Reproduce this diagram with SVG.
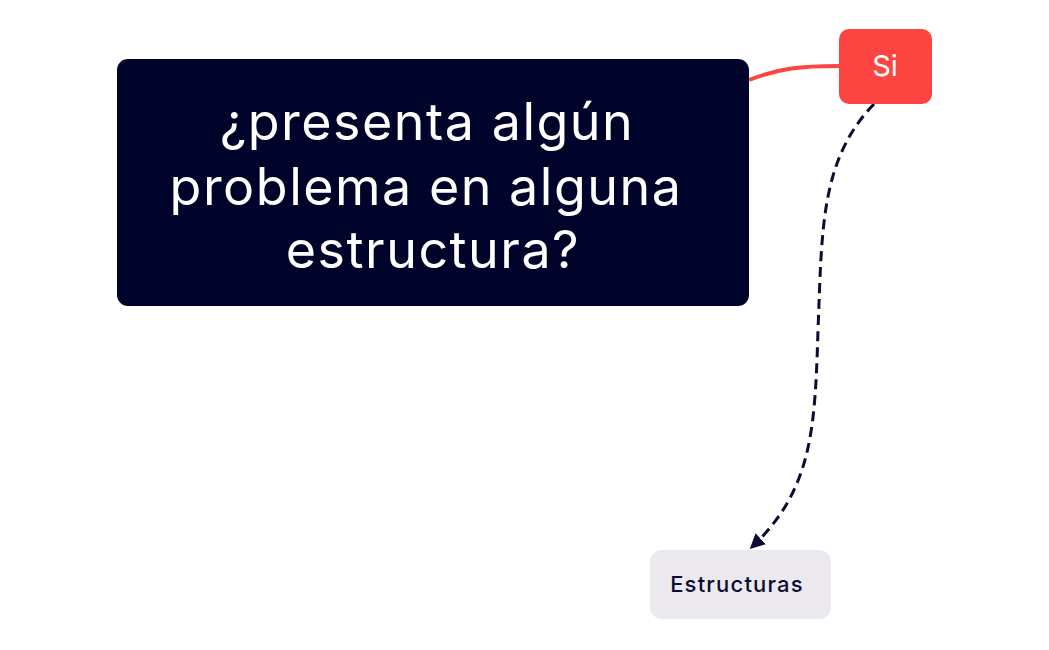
<svg xmlns="http://www.w3.org/2000/svg" width="1049" height="650" viewBox="0 0 1049 650">
<defs>
<style>
.q{font-family:Inter,"Open Sans","Liberation Sans",sans-serif;font-size:52px;letter-spacing:1.5px;fill:#ffffff;text-anchor:middle}
.si{font-family:Inter,"Open Sans","Liberation Sans",sans-serif;font-size:29px;fill:#ffffff;text-anchor:middle}
.e{font-family:Inter,"Open Sans","Liberation Sans",sans-serif;font-size:22px;letter-spacing:1.2px;font-weight:500;fill:#0b0b33;text-anchor:middle}
</style>
<marker id="arr" viewBox="0 0 10 10" refX="8" refY="5" markerWidth="5" markerHeight="5" orient="auto-start-reverse" markerUnits="strokeWidth">
<path d="M0,0 L10,5 L0,10 z" fill="#0b0b33"/>
</marker>
</defs>
<rect width="1049" height="650" fill="#ffffff"/>
<g id="connectors" fill="none">
<path d="M749,80 C780,68 800,66 840,66" stroke="#fc4540" stroke-width="4"/>
<path d="M874,104 C820,160 822,230 818,330 C815,430 812,490 752,547" stroke="#0b0b33" stroke-width="3" stroke-dasharray="10,6" marker-end="url(#arr)"/>
</g>
<g id="node-question">
<rect x="117" y="59" width="632" height="247" rx="11" fill="#00032a"/>
<text class="q" x="427" y="140">¿presenta algún</text>
<text class="q" x="426" y="205">problema en alguna</text>
<text class="q" x="433" y="268">estructura?</text>
</g>
<g id="node-si">
<rect x="839" y="29" width="93" height="75" rx="10" fill="#fc4540"/>
<text class="si" x="885" y="76">Si</text>
</g>
<g id="node-estructuras">
<rect x="650" y="550" width="181" height="69" rx="12" fill="#ebe8ee"/>
<text class="e" x="737" y="592">Estructuras</text>
</g>
</svg>
